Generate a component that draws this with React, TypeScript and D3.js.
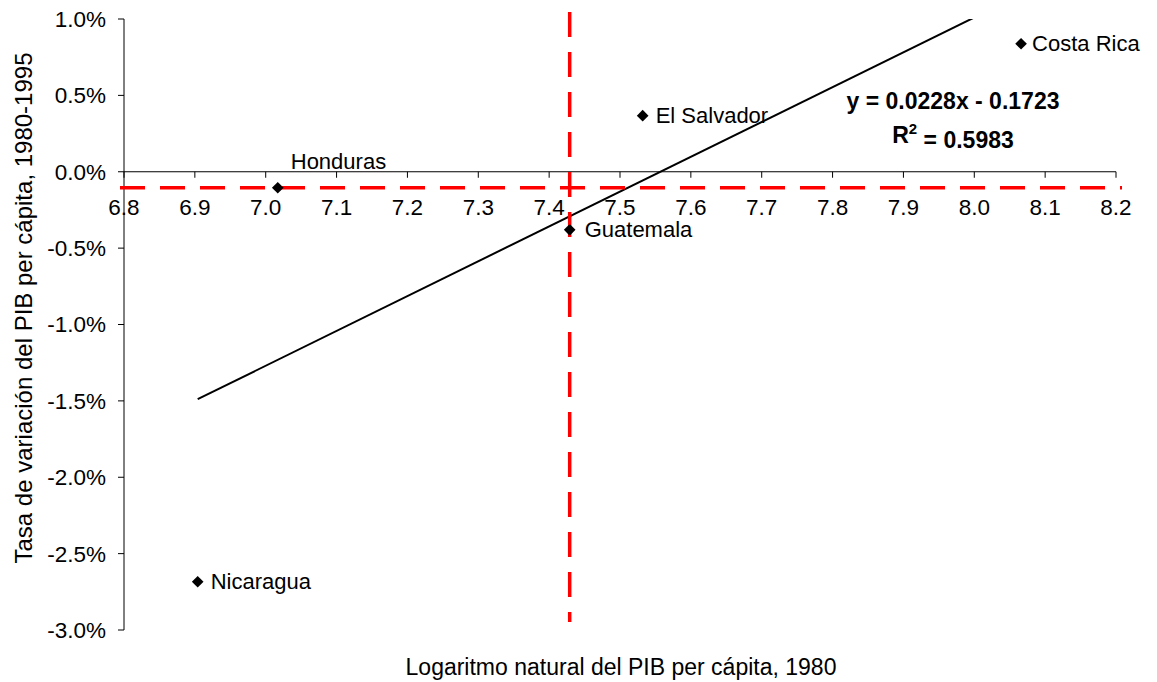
import React from "react";
import * as d3 from "d3";

const countries = ["Honduras", "Guatemala", "El Salvador", "Costa Rica", "Nicaragua"];
const lnGdp1980 = [7.017, 7.429, 7.532, 8.066, 6.904];
const growth = [-0.00105, -0.0038, 0.00367, 0.00838, -0.02684];
const xTicks = [6.8, 6.9, 7.0, 7.1, 7.2, 7.3, 7.4, 7.5, 7.6, 7.7, 7.8, 7.9, 8.0, 8.1, 8.2];
const yTicks = [0.01, 0.005, 0, -0.005, -0.01, -0.015, -0.02, -0.025, -0.03];
const slope = 0.0228;
const intercept = -0.1723;
const r2 = 0.5983;
const medianX = 7.429;
const medianY = -0.00105;

const W = 1157;
const H = 682;
const FONT = "'Liberation Sans', Arial, sans-serif";

export default function App() {
  const x = d3.scaleLinear().domain([6.8, 8.2]).range([124, 1116]);
  const y = d3.scaleLinear().domain([-0.03, 0.01]).range([630, 19]);
  const fmtY = (v: number) => (v * 100).toFixed(1) + "%";
  const diamond = d3.symbol().type(d3.symbolSquare).size(68)();

  const xMin = d3.min(lnGdp1980) as number;
  const xMax = d3.max(lnGdp1980) as number;
  const trend = d3.line<number>().x((v) => x(v)).y((v) => y(slope * v + intercept));

  const labelPos: Record<string, { dx: number; dy: number; anchor: string }> = {
    Honduras: { dx: 13, dy: -26, anchor: "start" },
    Guatemala: { dx: 15, dy: 0, anchor: "start" },
    "El Salvador": { dx: 13, dy: 0, anchor: "start" },
    "Costa Rica": { dx: 11, dy: 0, anchor: "start" },
    Nicaragua: { dx: 13, dy: 0, anchor: "start" },
  };

  return (
    <svg
      width={W}
      height={H}
      style={{ position: "absolute", left: 0, top: 0, background: "#fff" }}
      fontFamily={FONT}
    >
      <defs>
        <clipPath id="plotclip">
          <rect x={124} y={19} width={992} height={611} />
        </clipPath>
      </defs>
      {/* Y axis */}
      <line x1={124} x2={124} y1={19} y2={630} stroke="#000" strokeWidth={1} />
      {yTicks.map((t) => (
        <g key={t}>
          <line x1={118} x2={124} y1={y(t)} y2={y(t)} stroke="#000" />
          <text x={106} y={y(t)} dy="0.35em" textAnchor="end" fontSize={22.5} fill="#000">
            {fmtY(t)}
          </text>
        </g>
      ))}
      {/* X axis at zero */}
      <line x1={124} x2={1116} y1={y(0)} y2={y(0)} stroke="#000" strokeWidth={1} />
      {xTicks.map((t) => (
        <g key={t}>
          <line x1={x(t)} x2={x(t)} y1={y(0)} y2={y(0) + 6} stroke="#000" />
          <text x={x(t)} y={y(0) + 35} dy="0.35em" textAnchor="middle" fontSize={22.5} fill="#000">
            {t.toFixed(1)}
          </text>
        </g>
      ))}
      {/* Trend line */}
      <g clipPath="url(#plotclip)">
        <path d={trend([xMin, xMax]) || ""} fill="none" stroke="#000" strokeWidth={2} />
      </g>
      {/* Median dashed lines */}
      <line
        x1={120}
        x2={1122}
        y1={y(medianY)}
        y2={y(medianY)}
        stroke="#ff0000"
        strokeWidth={3.5}
        strokeDasharray="25,15"
      />
      <line
        x1={x(medianX)}
        x2={x(medianX)}
        y1={12}
        y2={622}
        stroke="#ff0000"
        strokeWidth={3.5}
        strokeDasharray="25,15"
      />
      {/* Points */}
      {countries.map((c, i) => {
        const px = x(lnGdp1980[i]);
        const py = y(growth[i]);
        const lp = labelPos[c];
        return (
          <g key={c}>
            <path d={diamond} transform={`translate(${px},${py}) rotate(45)`} fill="#000" />
            <text
              x={px + lp.dx}
              y={py + lp.dy}
              dy="0.35em"
              textAnchor={lp.anchor}
              fontSize={22}
              fill="#000"
            >
              {c}
            </text>
          </g>
        );
      })}
      {/* Equation */}
      <text x={953} y={101} dy="0.35em" textAnchor="middle" fontSize={23} fontWeight="bold" fill="#000">
        {`y = ${slope.toFixed(4)}x - ${Math.abs(intercept).toFixed(4)}`}
      </text>
      <text x={953} y={135} dy="0.35em" textAnchor="middle" fontSize={23} fontWeight="bold" fill="#000">
        R<tspan fontSize={15} dy="-0.6em">2</tspan>
        <tspan dy="0.6em">{` = ${r2.toFixed(4)}`}</tspan>
      </text>
      {/* Axis titles */}
      <text x={621} y={667} dy="0.35em" textAnchor="middle" fontSize={23} fill="#000">
        Logaritmo natural del PIB per cápita, 1980
      </text>
      <text
        transform={`translate(24,308) rotate(-90)`}
        dy="0.35em"
        textAnchor="middle"
        fontSize={24}
        fill="#000"
      >
        Tasa de variación del PIB per cápita, 1980-1995
      </text>
    </svg>
  );
}
